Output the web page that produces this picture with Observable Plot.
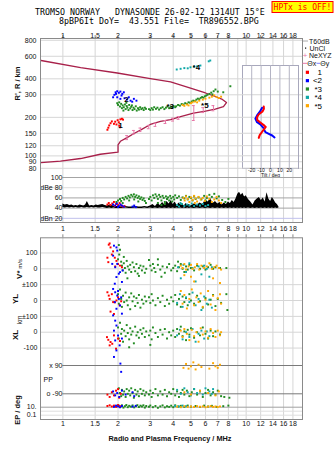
<!DOCTYPE html>
<html><head><meta charset="utf-8">
<script src="https://cdn.jsdelivr.net/npm/d3@7"></script>
<script src="https://cdn.jsdelivr.net/npm/@observablehq/plot@0.6"></script>
<style>
body{margin:0;background:#fff;}
#wrap{position:relative;width:335px;height:451px;background:#fff;overflow:hidden;}
#wrap svg{position:absolute;left:0;top:0;}
</style></head><body><div id="wrap"></div>
<script>
// ---------- text ----------
const titleLines = ["TROMSO NORWAY   DYNASONDE 26-02-12 1314UT 15°E", "8pBP6It DoY=  43.551 File=  TR896552.BPG"];
const warnText = "HPTx is OFF!";
const legendLabels = ["1", "<2", "*3", "*4", "*5"];
const traceLabels = [[2.06, 173, "1"], [2.22, 275, "2"], [3.85, 242, "*3"], [5.35, 495, "*4"], [5.95, 246, "*5"]];
// ---------- ticks ----------
const fTicks = [1, 1.5, 2, 3, 4, 5, 6, 7, 8, 10, 12, 14, 16, 18];
const fTicksMid = [1, 1.5, 2, 3, 4, 5, 6, 7, 8, 9, 10, 12, 14, 16, 18];
const hTicks = [80, 90, 100, 120, 150, 200, 300, 400, 600, 800];
const dbTicks = [100, 80, 60, 40, 20];
const tiltTicks = [-20, -10, 0, 10, 20];
const epTicks = [10, 0.1];
// ---------- height panel ----------
const profile = [[0.76,556],[1.25,490],[1.98,444],[3.0,402],[3.87,378],[4.97,339],[6.0,310],[6.78,291],[7.42,276],[7.81,261],[7.52,243],[6.78,232],[6.0,224],[5.16,216],[4.39,203],[3.87,192],[3.41,186],[3.0,176],[2.65,159],[2.43,149],[2.24,139],[2.06,130],[2.0,122],[2.0,107],[1.6,103],[1.25,95.4],[0.97,91],[0.76,88.7]];
const neXYZ = [[2.24,139,134,144],[2.44,153,148,158],[2.65,160,155,165],[2.94,168,163,173],[3.2,175,170,180],[3.63,184,179,189],[3.99,192,187,197],[4.28,198,193,203],[5.18,215,189,247],[5.83,228,218,238],[6.63,235,225,247]];
const hRed = [[1.75,160],[1.77,166],[1.79,173],[1.82,180],[1.85,186],[1.9,178],[1.93,185],[1.96,176],[1.99,190],[2.02,183],[2.06,193],[2.1,195],[2.13,192],[2.03,172],[2.05,167]];
const hBlue = [[1.88,287],[1.91,300],[1.94,314],[1.98,320],[2.02,311],[2.06,318],[2.11,305],[2.15,314],[1.98,287],[2.06,279],[2.17,282],[2.24,276],[2.29,287],[2.34,270],[2.44,279],[2.52,270],[2.39,265],[1.95,305],[2.09,296]];
const hGreen = [[1.98,258],[2.0,250],[2.03,262],[2.05,243],[2.08,255],[2.1,236],[2.12,248],[2.15,240],[2.18,252],[2.2,232],[2.23,245],[2.25,238],[2.28,228],[2.3,250],[2.33,235],[2.36,242],[2.4,228],[2.43,238],[2.46,232],[2.5,244],[2.53,226],[2.57,236],[2.6,230],[2.64,240],[2.68,232],[2.72,236],[2.76,228],[2.8,238],[2.84,233],[2.22,260],[2.38,248],[2.14,226],
[2.95,232],[3.0,228],[3.05,236],[3.1,230],[3.15,240],[3.22,233],[3.28,238],[3.35,230],[3.42,236],[3.5,240],[3.58,232],[3.65,238],[3.72,243],[3.8,236],[3.88,242],[3.95,238],[4.02,245],[4.1,240],
[4.15,244],[4.25,250],[4.35,247],[4.45,254],[4.55,252],[4.65,258],[4.75,255],[4.85,262],[4.95,260],[5.05,266],[5.15,270],[5.25,268],[5.35,275],[5.45,280],[5.55,277],[5.65,284],[5.75,288],[5.85,285],[5.95,292],[6.05,296],[6.15,300],[6.3,305],[6.45,312],[6.55,302],[6.65,320],[6.8,330],[7.0,318],[7.5,314],[8.2,350]];
const hOrange = [[4.5,250],[4.6,246],[4.75,252],[4.85,248],[5.0,258],[5.1,262],[5.25,266],[5.4,262],[5.55,270],[5.8,275],[6.0,280],[6.3,285],[6.5,290],[6.7,297],[6.9,288],[7.1,283],[7.3,290]];
const hTeal = [[4.18,473],[4.39,479],[4.6,485],[4.8,483],[4.97,492],[5.2,498],[5.4,500],[5.63,508],[6.25,548],[6.37,556]];
// ---------- tilt inset ----------
const tiltX = [[-7.2,243],[-7.0,233],[-8.5,222],[-12.6,210],[-14.3,200],[-14.0,190],[-10.8,182],[-6.5,172],[-5.0,168],[-7.2,160],[-9.5,152],[-11.5,145],[-12.5,138]];
const tiltY = [[-8.9,237],[-11.5,220],[-14.3,207],[-16.1,195],[-14.3,183],[-10.8,176],[-7.8,166],[-5.4,153],[-1.8,148.5],[1.8,144],[4.3,139]];
// ---------- dBe panel ----------
const noise = [[1.0,41,48],[1.03,40,46],[1.06,41,47],[1.09,40,45],[1.12,41,46],[1.15,40,44],[1.18,41,45],[1.21,40,44],[1.24,40,46],[1.27,41,45],[1.30,40,44],[1.33,40,46],[1.36,41,53],[1.40,40,44],[1.44,41,45],[1.48,40,44],[1.52,41,46],[1.56,40,45],[1.60,40,46],[1.65,41,47],[1.70,40,45],[1.75,39,44],[1.80,40,46],[1.85,39,45],[1.90,40,44],[1.95,39,43],[2.0,39,43],[2.1,39,42],[2.2,40,43],[2.3,39,42],[2.4,39,42],[2.5,40,43],[2.6,39,42],[2.7,39,42],[2.8,40,43],[2.9,39,42],[3.0,40,44],[3.1,39,47],[3.2,40,43],[3.3,39,49],[3.4,40,45],[3.5,39,51],[3.6,40,46],[3.7,39,53],[3.8,40,48],[3.9,39,55],[4.0,40,47],[4.1,39,52],[4.2,40,45],[4.3,39,50],[4.4,40,46],[4.5,39,48],[4.6,40,44],[4.7,39,49],[4.8,40,45],[4.9,39,47],[5.0,40,44],[5.2,39,48],[5.4,40,45],[5.6,39,50],[5.8,40,47],[6.0,39,56],[6.2,40,52],[6.4,39,59],[6.6,40,49],[6.8,39,53],[7.0,40,48],[7.2,39,51],[7.4,40,46],[7.6,39,50],[7.8,40,47],[8.0,39,52],[8.2,40,49],[8.4,39,55],[8.6,40,51],[8.8,39,58],[9.0,40,67],[9.2,39,71],[9.4,40,65],[9.6,39,69],[9.8,40,62],[10.0,39,64],[10.3,40,57],[10.6,39,52],[10.9,40,46],[11.2,39,54],[11.5,40,58],[11.8,39,61],[12.1,40,55],[12.4,39,60],[12.7,40,52],[13.0,39,70],[13.3,40,58],[13.6,39,53],[13.9,40,61],[14.2,39,56],[14.5,40,50],[14.8,39,47],[15.1,40,42]];
const dbRed = [[1.75,47],[1.78,50],[1.82,46],[1.86,49],[1.9,52],[1.95,48],[2.0,46],[2.04,50],[2.08,45],[2.12,43],[2.17,44],[1.92,44]];
const dbBlue = [[1.88,47],[1.93,45],[1.97,49],[2.02,44],[2.06,47],[2.1,45],[2.15,43],[2.4,43],[2.45,45],[2.5,42],[2.0,42]];
const dbGreen = [[1.96,52],[2.0,55],[2.05,58],[2.08,54],[2.12,60],[2.16,57],[2.2,62],[2.24,59],[2.28,64],[2.32,61],[2.36,66],[2.4,63],[2.44,67],[2.48,62],[2.52,65],[2.56,60],[2.6,63],[2.64,58],[2.68,61],[2.72,56],[2.76,59],[2.8,54],[2.84,50],[2.3,55],[2.45,57],[2.58,53],[2.12,50],
[2.95,58],[3.0,62],[3.05,55],[3.1,65],[3.15,60],[3.2,67],[3.25,63],[3.3,58],[3.35,66],[3.4,62],[3.45,55],[3.5,64],[3.55,60],[3.6,52],[3.65,63],[3.7,58],[3.75,61],[3.8,55],[3.85,64],[3.9,59],[3.95,53],[4.0,62],[4.05,57],[4.1,65],[4.2,60],[4.3,63],[4.4,56],[4.5,61],[4.6,59],[4.7,64],[4.8,57],[4.9,62],[5.0,60],[5.1,55],[5.2,63],[5.3,58],[5.5,61],[5.7,57],[5.9,64],[6.1,60],[6.3,66],[6.5,62],[6.7,68],[6.9,59],[7.1,63],[7.4,56],[7.7,52],[8.0,58],[3.3,50],[3.6,48],[3.45,46],[4.45,48],[6.0,55]];
const dbOrange = [[4.55,60],[4.62,55],[4.7,63],[4.8,58],[4.9,52],[5.0,61],[5.1,56],[5.2,64],[5.3,59],[5.4,53],[5.5,62],[5.65,57],[5.8,60],[5.95,54],[6.1,63],[6.3,58],[6.5,52],[6.7,57],[6.9,62],[7.1,55],[7.3,50],[5.25,50]];
const dbTeal = [[4.2,46],[4.3,43],[4.45,48],[4.6,44],[4.75,47],[4.9,45],[5.05,49],[5.2,44],[5.4,47],[5.6,45],[5.8,48],[6.0,44],[6.2,46],[4.38,50]];
// ---------- V* (m/s) ----------
const vRed = [[1.75,70],[1.77,42],[1.78,152],[1.8,160],[1.82,135],[1.85,90],[1.88,110],[1.92,70],[1.96,50],[2.0,30],[2.05,20],[2.1,10],[1.93,15]];
const vBlue = [[1.9,146],[1.96,135],[1.98,115],[1.88,83],[1.86,31],[1.93,10],[1.98,31],[2.02,-31],[2.05,-21],[1.96,-52],[2.1,-83],[1.92,-94],[2.12,-10]];
const vGreen = [[2.0,60],[2.02,150],[2.05,120],[2.03,90],[2.08,45],[2.1,20],[2.12,-10],[2.15,35],[2.18,5],[2.2,-25],[2.23,50],[2.26,15],[2.3,-5],[2.33,25],[2.36,-20],[2.4,40],[2.44,10],[2.48,-15],[2.52,30],[2.56,-30],[2.6,5],[2.65,20],[2.7,-10],[2.75,15],[2.8,-25],[2.85,0],
[2.95,55],[3.0,20],[3.05,-10],[3.1,30],[3.15,5],[3.2,-20],[3.3,25],[3.4,-5],[3.5,15],[3.6,-25],[3.7,10],[3.8,30],[3.9,-10],[4.0,5],
[4.1,20],[4.2,-15],[4.3,10],[4.4,30],[4.5,0],[4.6,-20],[4.7,15],[4.8,-5],[4.9,25],[5.0,5],[5.2,-10],[5.4,20],[5.6,0],[5.8,15],[6.0,-5],[6.2,10],[6.4,25],[6.6,0],[6.8,10],[7.2,5],[7.8,5],[2.25,-60],[2.6,-45],[3.45,-50],[4.25,45],[2.15,75],[3.3,60]];
const vOrange = [[4.4,20],[4.5,5],[4.6,30],[4.7,-5],[4.85,15],[5.0,25],[5.1,0],[5.25,10],[5.4,30],[5.55,-5],[5.7,20],[5.9,5],[6.1,15],[6.3,35],[6.5,0],[6.7,10],[6.9,20],[7.1,5],[7.3,-5],[5.0,-50],[5.2,-80],[4.6,-40],[6.6,-60],[7.2,-90]];
const vTeal = [[4.25,10],[4.4,-60],[4.55,25],[4.7,-20],[4.9,35],[5.1,5],[5.3,-80],[5.5,15],[5.7,-35],[5.9,20],[6.1,0],[6.3,-50],[6.5,10]];
// ---------- YL (km) ----------
const ylRed = [[1.75,52],[1.78,31],[1.8,10],[1.85,40],[1.88,-10],[1.92,-12],[1.96,0],[2.0,20],[2.04,-30],[1.82,-70],[1.9,-85],[2.08,-5]];
const ylBlue = [[1.88,73],[1.93,52],[1.98,31],[2.02,10],[1.92,-10],[2.05,-31],[1.96,-52],[2.1,-83],[1.88,-94],[2.0,60],[2.08,20]];
const ylGreen = [[2.0,40],[2.02,-20],[2.05,70],[2.08,10],[2.1,-40],[2.13,30],[2.16,-10],[2.2,50],[2.23,0],[2.26,-30],[2.3,20],[2.33,-55],[2.36,45],[2.4,-5],[2.44,25],[2.48,-35],[2.52,15],[2.56,-15],[2.6,35],[2.65,-45],[2.7,5],[2.75,-20],[2.8,25],[2.85,-5],
[2.95,20],[3.0,-15],[3.05,40],[3.1,0],[3.2,-30],[3.3,15],[3.4,-10],[3.5,30],[3.6,-35],[3.7,5],[3.8,-20],[3.9,20],[4.0,-5],
[4.1,35],[4.2,-25],[4.3,10],[4.4,-40],[4.5,25],[4.6,-10],[4.7,15],[4.8,-30],[4.9,40],[5.0,0],[5.2,-20],[5.4,30],[5.6,-5],[5.8,-45],[6.0,15],[6.2,-25],[6.4,5],[6.6,35],[6.8,-35],[7.0,10],[7.3,-15],[7.9,-60],[7.8,40]];
const ylOrange = [[4.4,60],[4.5,-20],[4.6,35],[4.75,-50],[4.9,10],[5.05,70],[5.2,-30],[5.35,20],[5.5,-10],[5.65,45],[5.8,-40],[6.0,5],[6.2,60],[6.4,-25],[6.6,30],[6.8,-60],[7.0,15],[7.2,40],[7.3,-20]];
const ylTeal = [[4.2,-15],[4.35,40],[4.5,-40],[4.7,20],[4.9,-10],[5.1,50],[5.3,-30],[5.5,10],[5.7,-60],[5.9,25],[6.1,-20],[6.3,5],[6.5,-45]];
// ---------- XL (km) ----------
const xlRed = [[1.74,-31],[1.77,-48],[1.82,-62],[1.86,-73],[1.8,-83],[1.95,-104],[2.0,-40],[1.9,-20],[2.05,-55]];
const xlBlue = [[1.93,73],[1.96,42],[1.9,10],[2.0,-21],[1.93,-52],[2.04,-83],[1.96,-115],[1.9,-156],[2.06,-198],[2.08,-250],[2.1,-40]];
const xlGreen = [[2.0,30],[2.02,-40],[2.05,60],[2.08,-10],[2.1,20],[2.13,-60],[2.16,10],[2.2,-25],[2.23,45],[2.26,-5],[2.3,-45],[2.33,25],[2.36,-15],[2.4,5],[2.44,-70],[2.48,35],[2.52,-20],[2.56,0],[2.6,-35],[2.65,15],[2.7,-10],[2.75,25],[2.8,-30],[2.85,5],
[2.95,-20],[3.0,10],[3.05,-45],[3.1,30],[3.2,-5],[3.3,-30],[3.4,15],[3.5,-15],[3.6,20],[3.7,-40],[3.8,0],[3.9,-20],[4.0,10],
[4.1,-30],[4.2,20],[4.3,-10],[4.4,35],[4.5,-25],[4.6,5],[4.7,-50],[4.8,15],[4.9,-15],[5.0,25],[5.2,-35],[5.4,0],[5.6,-20],[5.8,30],[6.0,-10],[6.2,-40],[6.4,10],[6.6,-25],[6.8,5],[7.2,-15],[2.3,-95],[3.0,-80]];
const xlOrange = [[4.4,10],[4.5,-30],[4.6,20],[4.75,-10],[4.9,-50],[5.05,15],[5.2,-25],[5.35,0],[5.5,-60],[5.65,25],[5.8,-15],[6.0,5],[6.2,-35],[6.4,20],[6.6,-5],[6.8,-30],[7.0,10],[7.2,-20],[7.3,0]];
const xlTeal = [[4.2,-20],[4.35,15],[4.5,-45],[4.7,0],[4.9,-30],[5.1,20],[5.3,-60],[5.5,-10],[5.7,10],[5.9,-40],[6.1,5],[6.3,-25]];
// ---------- PP (deg) ----------
const ppRed = [[1.75,-95],[1.8,-110],[1.85,-80],[1.9,-100],[1.95,-70],[2.0,-60],[2.03,-115],[2.07,-90]];
const ppBlue = [[1.88,-75],[1.93,-100],[1.98,-85],[2.03,-110],[2.1,-70],[2.2,-95],[2.45,-105],[2.4,-80]];
const ppGreen = [[2.02,-55],[2.05,-85],[2.08,-105],[2.1,-65],[2.13,-95],[2.16,-75],[2.2,-110],[2.23,-60],[2.26,-90],[2.3,-70],[2.33,-100],[2.36,-55],[2.4,-85],[2.44,-115],[2.48,-65],[2.52,-95],[2.56,-75],[2.6,-105],[2.65,-60],[2.7,-90],[2.75,-70],[2.8,-100],[2.85,-80],[2.95,-95],[3.0,-70],[3.05,-110],[3.1,-85],[3.2,-60],[3.3,-100],[3.4,-75],[3.5,-95],[3.6,-65],[3.7,-105],[3.8,-80],[3.9,-90],[4.0,-60],[4.1,-100],[4.2,-75],[4.3,-110],[4.4,-85],[4.5,-65],[4.6,-95],[4.75,-70],[4.9,-105],[5.05,-80],[5.2,-60],[5.4,-95],[5.6,-75],[5.8,-110],[6.0,-85],[6.2,-65],[6.4,-100],[6.6,-80],[6.8,-95],[7.0,-70],[7.3,-105],[7.6,-110],[8.1,-115]];
const ppOrange = [[4.55,75],[4.7,100],[4.85,70],[5.0,85],[5.15,110],[5.3,65],[5.5,95],[5.7,80],[6.3,70],[6.6,105],[6.8,85],[7.0,75],[7.2,95],[4.6,-80],[5.0,-95],[5.6,-70],[6.2,-85],[6.8,-100],[7.1,-75]];
const ppTeal = [[4.2,-65],[4.4,-90],[4.6,-55],[4.8,-80],[5.0,-100],[5.2,-60],[5.4,-85],[5.6,-70],[5.8,-95],[6.0,-55],[6.3,-75],[6.6,-60],[6.5,-90]];
// ---------- EP (deg) ----------
const epRed = [[1.75,20],[1.8,30],[1.85,15],[1.9,25],[1.95,12],[2.0,35],[2.05,18]];
const epBlue = [[1.9,12],[1.95,25],[2.0,16],[2.05,9],[2.1,20],[2.4,14],[2.5,22]];
const epGreen = [[2.02,25],[2.06,12],[2.1,30],[2.14,8],[2.18,18],[2.22,35],[2.26,10],[2.3,22],[2.35,14],[2.4,28],[2.45,9],[2.5,19],[2.55,32],[2.6,11],[2.65,24],[2.7,15],[2.75,30],[2.8,8],[2.85,20],[2.95,13],[3.0,26],[3.1,10],[3.2,20],[3.3,7],[3.4,16],[3.5,28],[3.6,9],[3.7,18],[3.8,12],[3.9,24],[4.0,10],[4.1,30],[4.25,15],[4.4,22],[4.6,12],[4.8,26],[5.0,14],[5.3,20],[5.6,11],[5.9,25],[6.2,15],[6.5,22],[6.9,12],[7.5,18],[8.0,25]];
const epOrange = [[4.2,14],[4.4,10],[4.6,17],[4.8,12],[5.0,15],[5.2,11],[5.4,18],[5.6,13],[5.8,16],[6.0,10],[6.2,14],[6.4,19],[6.6,12],[6.8,15],[7.0,11],[7.2,16]];
const epTeal = [[4.1,20],[4.3,15],[4.5,25],[4.7,18]];

// ---------- styling ----------
const C_RED = "#ff0000", C_BLUE = "#0000ff", C_GREEN = "#238b23", C_TEAL = "#10a8a8", C_ORANGE = "#ffa800";
const C_PROF = "#a8204a", C_PINK = "#e878a8";
const legendColors = [C_RED, C_BLUE, C_GREEN, C_TEAL, C_ORANGE];
const gridC = "#d6d6d6", frameC = "#8a8a8a", labelC = "#111";
const W = 335, H = 451, ML = 40, MR = 33;
const fDomain = [0.755, 20.3];
const FONT = "'Liberation Sans', Arial, sans-serif";
const wrap = document.getElementById("wrap");

function panel(opts) {
  const svg = Plot.plot(Object.assign({
    width: W, height: H, marginLeft: ML, marginRight: MR,
    style: {background: "transparent", fontFamily: FONT, fontSize: "7px", color: labelC, overflow: "visible"}
  }, opts));
  wrap.appendChild(svg);
}
const sq = (data, fill) => Plot.dot(data, {x: d => d[0], y: d => d[1], symbol: "square", r: 1.1, fill});
const xLog = {type: "log", domain: fDomain, axis: null};
// tick labels for log scales, drawn as text marks at the frame edge
const xLabels = (ticks, anchor, dy) => Plot.text(ticks, {x: d => d, frameAnchor: anchor, dy, text: d => String(d), fontSize: 7, fill: labelC});
const yLabels = (ticks, fmt, dx) => Plot.text(ticks, {y: d => d, frameAnchor: "left", dx, textAnchor: "end", text: fmt, fontSize: 7, fill: labelC});

// P1: virtual height panel
panel({
  marginTop: 38, marginBottom: 274,
  x: xLog, y: {type: "log", domain: [67.8, 826], axis: null},
  marks: [
    Plot.ruleX(fTicksMid, {stroke: gridC}),
    Plot.ruleY(hTicks, {stroke: gridC}),
    Plot.ruleX(fTicks, {y1: 826, y2: 826, insetTop: -3, stroke: frameC}),
    xLabels(fTicks, "top", -5.5),
    yLabels(hTicks, d => String(d), -4),
    Plot.line(profile, {x: d => d[0], y: d => d[1], stroke: C_PROF, strokeWidth: 1.3}),
    Plot.ruleX(neXYZ, {x: d => d[0], y1: d => d[2], y2: d => d[3], stroke: C_PINK}),
    Plot.ruleY(neXYZ, {y: d => d[2], x1: d => d[0] / 1.018, x2: d => d[0] * 1.018, stroke: C_PINK}),
    Plot.ruleY(neXYZ, {y: d => d[3], x1: d => d[0] / 1.018, x2: d => d[0] * 1.018, stroke: C_PINK}),
    sq(hGreen, C_GREEN), sq(hRed, C_RED), sq(hBlue, C_BLUE), sq(hTeal, C_TEAL), sq(hOrange, C_ORANGE),
    Plot.text(traceLabels, {x: d => d[0], y: d => d[1], text: d => d[2], fontSize: 8, fontWeight: "bold", fill: "#000"})
  ]
});

// P2: tilt inset
panel({
  marginLeft: 242, marginRight: 37, marginTop: 65, marginBottom: 283,
  x: {domain: [-29.8, 29.8], axis: null}, y: {type: "log", domain: [79.5, 508], axis: null},
  marks: [
    Plot.frame({fill: "white", stroke: "#a8a8bc"}),
    Plot.ruleY(hTicks.filter(h => h > 79.5 && h < 508), {stroke: gridC}),
    Plot.ruleX(tiltTicks, {stroke: "#b4b4c4"}),
    Plot.text(tiltTicks, {x: d => d, frameAnchor: "bottom", dy: 3.2, text: d => String(d), fontSize: 5, fill: labelC}),
    Plot.text(["Tilt / deg"], {frameAnchor: "bottom", dy: 8.5, fontSize: 5, fill: labelC}),
    Plot.line(tiltY, {x: d => d[0], y: d => d[1], stroke: C_BLUE, strokeWidth: 2}),
    Plot.line(tiltX, {x: d => d[0], y: d => d[1], stroke: C_RED, strokeWidth: 2})
  ]
});

// P3: dBe amplitude panel
panel({
  marginTop: 177, marginBottom: 229,
  x: xLog, y: {domain: [11.8, 100]},
  marks: [
    Plot.ruleX(fTicksMid, {stroke: gridC}),
    Plot.ruleY([80], {stroke: "#dcdcdc"}),
    Plot.ruleY([100, 60, 40], {y: d => d, x1: 1, x2: fDomain[1], stroke: "#a4a4a4"}),
    Plot.ruleY([20], {stroke: "#c0c0ec"}),
    Plot.axisY(dbTicks, {anchor: "left", tickSize: 0, tickPadding: 0, dx: 22, label: null,
      tickFormat: d => d === 80 ? "dBe 80" : d === 20 ? "dBn 20" : String(d)}),
    xLabels(fTicksMid, "bottom", 8),
    Plot.areaY(noise, {x: d => d[0], y1: d => d[1], y2: d => d[2], fill: "#000"}),
    sq(dbGreen, C_GREEN), sq(dbRed, C_RED), sq(dbBlue, C_BLUE), sq(dbTeal, C_TEAL), sq(dbOrange, C_ORANGE)
  ]
});

// P4: V*, YL, XL rows (grids first, then points)
const rowTop = 237.3, rowBottom = H - 365;
const vDom = [-610, 195.6], ylDom = [-410, 395.6], xlDom = [-210, 595.6];
panel({
  marginTop: rowTop, marginBottom: rowBottom, x: xLog, y: {domain: vDom},
  marks: [
    Plot.ruleX(fTicksMid, {stroke: gridC}),
    Plot.ruleY([100, 0], {stroke: gridC}),
    Plot.ruleX(fTicksMid, {y1: vDom[1], y2: vDom[1], insetTop: -3, stroke: frameC}),
    Plot.axisY([100, 0], {anchor: "left", tickSize: 0, tickPadding: 3, tickFormat: d => String(d), label: null})
  ]
});
panel({
  marginTop: rowTop, marginBottom: rowBottom, x: xLog, y: {domain: ylDom},
  marks: [
    Plot.ruleY([100, 0, -100], {stroke: gridC}),
    Plot.axisY([100, 0, -100], {anchor: "left", tickSize: 0, tickPadding: 3, tickFormat: d => d === 0 ? "0" : "±100", label: null})
  ]
});
panel({
  marginTop: rowTop, marginBottom: rowBottom, x: xLog, y: {domain: xlDom},
  marks: [
    Plot.ruleY([0, -100], {stroke: gridC}),
    Plot.axisY([0, -100], {anchor: "left", tickSize: 0, tickPadding: 3, tickFormat: d => String(d), label: null})
  ]
});
panel({marginTop: rowTop, marginBottom: rowBottom, x: xLog, y: {domain: vDom, axis: null},
  marks: [sq(vGreen, C_GREEN), sq(vRed, C_RED), sq(vBlue, C_BLUE), sq(vTeal, C_TEAL), sq(vOrange, C_ORANGE)]});
panel({marginTop: rowTop, marginBottom: rowBottom, x: xLog, y: {domain: ylDom, axis: null},
  marks: [sq(ylGreen, C_GREEN), sq(ylRed, C_RED), sq(ylBlue, C_BLUE), sq(ylTeal, C_TEAL), sq(ylOrange, C_ORANGE)]});
panel({marginTop: rowTop, marginBottom: rowBottom, x: xLog, y: {domain: xlDom, axis: null},
  marks: [sq(xlGreen, C_GREEN), sq(xlRed, C_RED), sq(xlBlue, C_BLUE), sq(xlTeal, C_TEAL), sq(xlOrange, C_ORANGE)]});

// P5: PP (polarization) row
panel({
  marginTop: 365, marginBottom: H - 400, x: xLog, y: {domain: [-132.6, 90]},
  marks: [
    Plot.ruleX(fTicksMid, {stroke: gridC}),
    Plot.ruleY([90, -90], {y: d => d, x1: 1, x2: fDomain[1], stroke: "#7a7a7a"}),
    Plot.axisY([90, -90], {anchor: "left", tickSize: 0, tickPadding: 0, dx: 22, label: null,
      tickFormat: d => d > 0 ? "x 90" : "o -90"}),
    Plot.text(["PP"], {y: () => 0, frameAnchor: "left", dx: 3, textAnchor: "start", fontSize: 7, fill: labelC}),
    sq(ppGreen, C_GREEN), sq(ppRed, C_RED), sq(ppBlue, C_BLUE), sq(ppTeal, C_TEAL), sq(ppOrange, C_ORANGE)
  ]
});

// P6: EP row
panel({
  marginTop: 400, marginBottom: H - 419, x: xLog, y: {type: "log", domain: [0.0084, 473], axis: null},
  marks: [
    Plot.ruleX(fTicksMid, {stroke: gridC}),
    Plot.ruleY([1, 0.1], {stroke: "#dedede"}),
    Plot.ruleY([10], {stroke: "#a0a0a0"}),
    yLabels(epTicks, d => d === 10 ? "10." : "0.1", -4),
    xLabels(fTicks, "bottom", 6),
    sq(epGreen, C_GREEN), sq(epRed, C_RED), sq(epBlue, C_BLUE), sq(epTeal, C_TEAL), sq(epOrange, C_ORANGE)
  ]
});

// frames
panel({marginTop: 38, marginBottom: H - 222, marks: [Plot.frame({stroke: frameC})]});
panel({marginTop: 237.3, marginBottom: H - 419, marks: [Plot.frame({stroke: frameC})]});

// ---------- overlay: title, legend, axis titles ----------
const ov = d3.select(wrap).append("svg").attr("width", W).attr("height", H);
function txt(x, y, s, attrs) {
  const t = ov.append("text").attr("x", x).attr("y", y).text(s).style("white-space", "pre")
    .attr("font-family", FONT).attr("font-size", 7).attr("fill", labelC);
  for (const k in (attrs || {})) t.attr(k, attrs[k]);
  return t;
}
const MONO = "'DejaVu Sans Mono', monospace";
txt(35, 15.3, titleLines[0], {"font-family": MONO, "font-size": 8.3, fill: "#000"});
txt(59, 23.8, titleLines[1], {"font-family": MONO, "font-size": 8.3, fill: "#000"});
ov.append("rect").attr("x", 272).attr("y", 1.5).attr("width", 61).attr("height", 11).attr("fill", "#ffff00").attr("stroke", "#ff0000");
txt(302.5, 10.3, warnText, {"font-family": MONO, "font-size": 8, fill: "#ff0000", "text-anchor": "middle"});

// legend column
ov.append("line").attr("x1", 303).attr("x2", 308).attr("y1", 41).attr("y2", 41).attr("stroke", "#aaa");
txt(309, 43.5, "T60dB");
ov.append("rect").attr("x", 305).attr("y", 47.5).attr("width", 1.2).attr("height", 1.2).attr("fill", "#000");
txt(309.5, 50.8, "UnCl");
txt(305, 58.3, "+", {fill: C_PINK, "text-anchor": "middle", "font-size": 8});
txt(309, 58.2, "NeXYZ");
ov.append("line").attr("x1", 302.5).attr("x2", 307).attr("y1", 63.3).attr("y2", 63.3).attr("stroke", C_PINK);
txt(307.3, 65.8, "Θx");
ov.append("line").attr("x1", 316.5).attr("x2", 320).attr("y1", 63.3).attr("y2", 63.3).attr("stroke", "#8080ff");
txt(320.3, 65.8, "Θy");
legendLabels.forEach((s, i) => {
  const y = 72.3 + i * 8.35;
  ov.append("rect").attr("x", 305.8).attr("y", y - 1.6).attr("width", 3.2).attr("height", 3.2).attr("fill", legendColors[i]);
  txt(322, y + 2.8, s, {"text-anchor": "end", "font-size": 8, fill: "#000"});
});

// axis titles
function vtxt(x, y, parts) {
  const t = ov.append("text").attr("transform", `translate(${x},${y}) rotate(-90)`).attr("text-anchor", "middle")
    .attr("dy", "0.35em").attr("font-family", FONT).attr("fill", labelC);
  parts.forEach(([s, size, weight]) => t.append("tspan").attr("font-size", size).attr("font-weight", weight).text(s));
}
vtxt(14, 83.5, [["R', R / km", 7.5, "bold"]]);
vtxt(16.5, 269, [["V*", 8, "bold"], [" m/s", 6, "normal"]]);
vtxt(12.5, 299, [["YL", 8, "bold"]]);
vtxt(16.5, 320, [["km", 6.5, "normal"]]);
vtxt(12.5, 335, [["XL", 8, "bold"]]);
vtxt(14.5, 410, [["EP / deg", 7.5, "bold"]]);
txt(170, 441, "Radio and Plasma Frequency / MHz", {"text-anchor": "middle", "font-size": 7.3, fill: labelC, "font-weight": "bold"});
</script></body></html>
